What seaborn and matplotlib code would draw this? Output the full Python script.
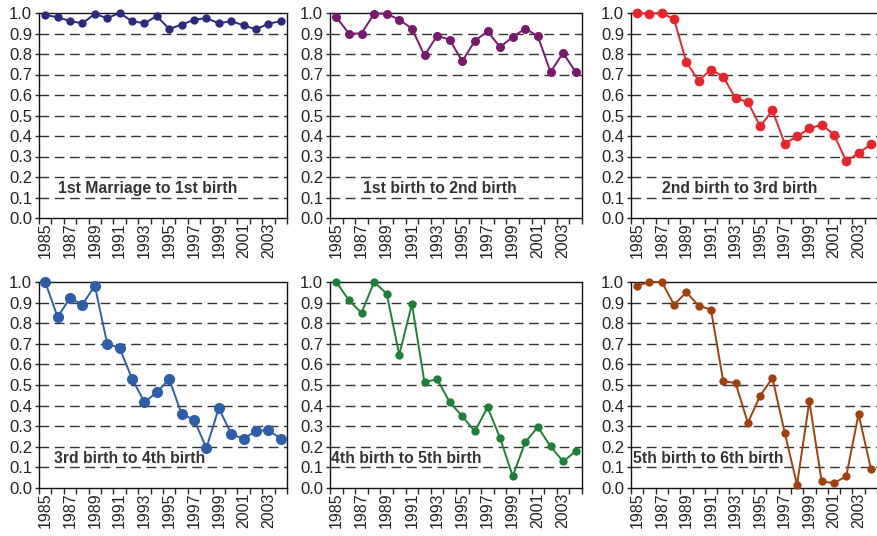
import matplotlib
matplotlib.use("Agg")
import matplotlib.pyplot as plt
import seaborn as sns
import numpy as np
import pandas as pd

years = list(range(1985, 2005))

marriage_to_1st = [0.99, 0.98, 0.96, 0.95, 0.995, 0.975, 1.0, 0.96, 0.95, 0.985,
                   0.922, 0.943, 0.967, 0.975, 0.95, 0.96, 0.94, 0.92, 0.948, 0.96]
first_to_2nd = [0.98, 0.90, 0.90, 0.997, 0.997, 0.967, 0.924, 0.793, 0.889, 0.87,
                0.764, 0.865, 0.91, 0.834, 0.883, 0.924, 0.886, 0.712, 0.805, 0.712]
second_to_3rd = [1.0, 0.997, 1.0, 0.97, 0.76, 0.67, 0.724, 0.69, 0.583, 0.566,
                 0.447, 0.525, 0.363, 0.398, 0.437, 0.455, 0.407, 0.277, 0.316, 0.36]
third_to_4th = [1.0, 0.83, 0.922, 0.89, 0.982, 0.70, 0.68, 0.531, 0.417, 0.464,
                0.529, 0.359, 0.332, 0.194, 0.388, 0.262, 0.238, 0.278, 0.28, 0.24]
fourth_to_5th = [1.0, 0.911, 0.85, 1.0, 0.943, 0.647, 0.893, 0.513, 0.529, 0.416,
                 0.348, 0.275, 0.392, 0.243, 0.057, 0.223, 0.296, 0.202, 0.129, 0.178]
fifth_to_6th = [0.982, 1.0, 1.0, 0.89, 0.95, 0.885, 0.866, 0.518, 0.51, 0.316,
                0.448, 0.534, 0.267, 0.016, 0.421, 0.032, 0.024, 0.057, 0.359, 0.094]

labels = ["1st Marriage to 1st birth", "1st birth to 2nd birth", "2nd birth to 3rd birth",
          "3rd birth to 4th birth", "4th birth to 5th birth", "5th birth to 6th birth"]
series = [marriage_to_1st, first_to_2nd, second_to_3rd, third_to_4th, fourth_to_5th, fifth_to_6th]
colors = ["#2B2A7C", "#7A1A6C", "#E8242C", "#2E5EAA", "#1E8038", "#A0400F"]
marker_sizes = [6, 6.5, 7, 8, 6, 6]
ytick_vals = [round(0.1 * i, 1) for i in range(11)]

sns.set_style("ticks")
plt.rcParams['font.family'] = ['Liberation Sans', 'DejaVu Sans']

fig = plt.figure(figsize=(8.78, 5.36), dpi=100)
W, H = 878, 536
cols = [(39, 287), (330, 582), (631, 877)]
rows = [(13, 218), (282, 488)]
text_x = [0.077, 0.131, 0.126, 0.06, 0.004, 0.008]

for i in range(6):
    r, c = divmod(i, 3)
    l, rr = cols[c]
    t, b = rows[r]
    ax = fig.add_axes([l / W, 1 - b / H, (rr - l) / W, (b - t) / H])
    df = pd.DataFrame({"year": years, "value": series[i]})
    for yv in ytick_vals[1:-1]:
        ax.axhline(yv, color="#333333", lw=1.0, ls=(0, (7, 4)), zorder=1)
    sns.lineplot(data=df, x="year", y="value", ax=ax, color=colors[i], marker="o",
                 markersize=marker_sizes[i], markeredgewidth=0, linewidth=1.4, zorder=3,
                 clip_on=False)
    ax.set_xlim(1984.5, 2004.5)
    ax.set_ylim(0, 1.0)
    ax.set_yticks(ytick_vals)
    ax.set_yticklabels([f"{v:.1f}" for v in ytick_vals], fontsize=12, color="#222222")
    ax.set_xticks(years[::2])
    ax.set_xticklabels([str(y) for y in years[::2]], rotation=90, fontsize=11.5, color="#222222")
    ax.set_xticks(np.arange(1984.5, 2005, 1.0), minor=True)
    ax.tick_params(axis="x", which="major", length=0, pad=3)
    ax.tick_params(axis="x", which="minor", length=4, width=1, direction="out")
    ax.tick_params(axis="y", length=3, width=1, direction="out", pad=2)
    ax.set_xlabel("")
    ax.set_ylabel("")
    for s in ax.spines.values():
        s.set_color("#111111")
        s.set_linewidth(1.0)
    if c == 2:
        ax.spines["right"].set_visible(False)
    ax.text(text_x[i], 0.143, labels[i], transform=ax.transAxes, fontsize=11.3,
            fontweight="bold", color="#333333", va="center", ha="left", zorder=4)

fig.savefig("out.png", dpi=100)
